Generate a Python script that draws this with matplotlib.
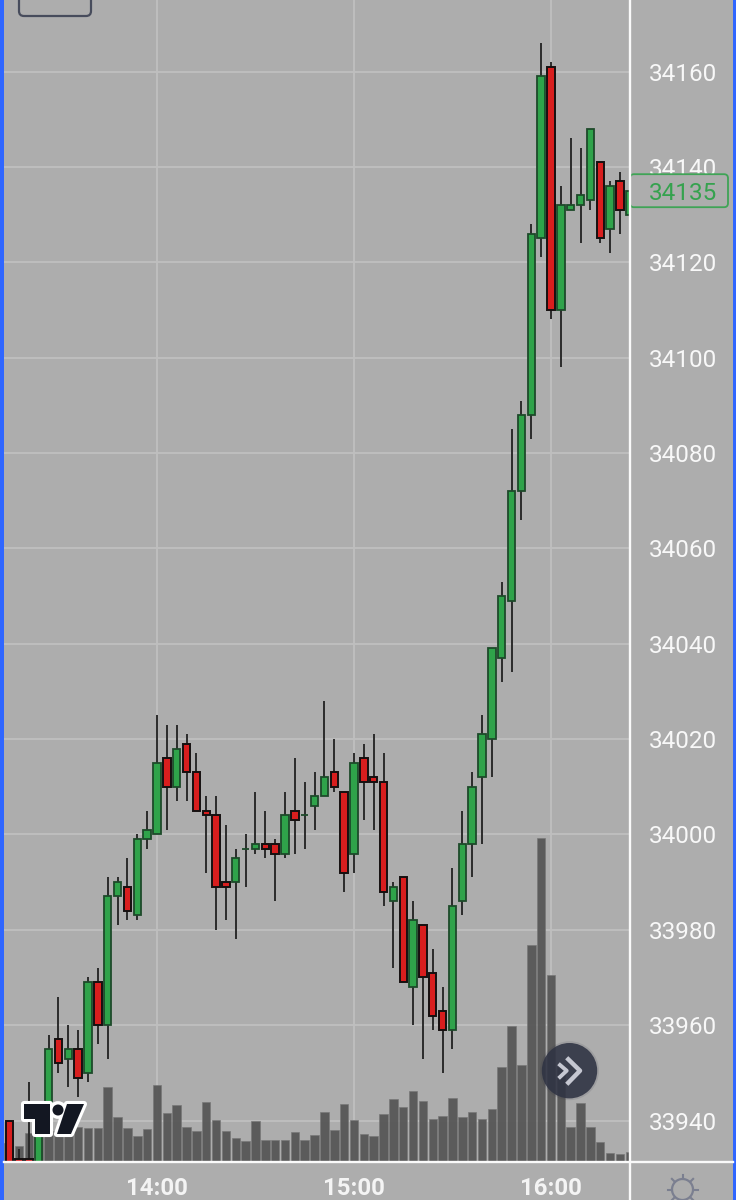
import numpy as np
import matplotlib
matplotlib.use('Agg')
import matplotlib.pyplot as plt
from matplotlib.patches import Circle, FancyBboxPatch, Polygon, Rectangle

# 3 min bars, index 0 is 14:00
bar_index = np.arange(-16, 49)
opens = [33944, 33940, 33932, 33932, 33929, 33942, 33957, 33953, 33955, 33950, 33969, 33960, 33987, 33989, 33983, 33999,
         34000, 34016, 34010, 34019, 34013, 34005, 34004, 33990, 33990, 33997, 33997, 33998, 33998, 33996, 34005, 34004,
         34006, 34008, 34013, 34009, 33996, 34016, 34012, 34011, 33986, 33991, 33968, 33981, 33971, 33963, 33959, 33986,
         33998, 34012, 34020, 34037, 34049, 34072, 34088, 34125, 34161, 34110, 34131, 34132, 34133, 34141, 34127, 34137, 34130]
highs = [33944, 33940, 33934, 33948, 33942, 33958, 33966, 33960, 33959, 33970, 33972, 33991, 33991, 33995, 34000, 34005,
         34025, 34023, 34023, 34021, 34017, 34008, 34008, 34002, 33997, 34000, 34009, 34005, 33999, 34009, 34016, 34011,
         34013, 34028, 34020, 34009, 34017, 34019, 34021, 34017, 33990, 33991, 33986, 33981, 33976, 33968, 33993, 34005,
         34013, 34025, 34039, 34053, 34085, 34091, 34128, 34166, 34162, 34136, 34146, 34144, 34148, 34141, 34137, 34139, 34140]
lows = [33940, 33930, 33928, 33928, 33929, 33942, 33950, 33947, 33945, 33948, 33956, 33953, 33981, 33982, 33982, 33997,
        34000, 34001, 34007, 34007, 34005, 33992, 33980, 33982, 33978, 33989, 33996, 33995, 33986, 33995, 33996, 33997,
        34001, 34008, 34009, 33988, 33992, 34003, 34001, 33985, 33972, 33969, 33960, 33953, 33959, 33950, 33955, 33983,
        33991, 33998, 34012, 34032, 34034, 34066, 34083, 34121, 34108, 34098, 34131, 34124, 34131, 34124, 34122, 34126, 34123]
closes = [33940, 33930, 33929, 33928, 33942, 33955, 33952, 33955, 33949, 33969, 33960, 33987, 33990, 33984, 33999, 34001,
          34015, 34010, 34018, 34013, 34005, 34004, 33989, 33989, 33995, 33997, 33998, 33997, 33996, 34004, 34003, 34004,
          34008, 34012, 34010, 33992, 34015, 34011, 34011, 33988, 33989, 33969, 33982, 33970, 33962, 33959, 33985, 33998,
          34010, 34021, 34039, 34050, 34072, 34088, 34126, 34159, 34110, 34132, 34132, 34134, 34148, 34125, 34136, 34131, 34135]
volumes = [18, 25, 15, 28, 28, 30, 30, 30, 34, 33, 33, 74, 44, 33, 25, 32,
           76, 48, 56, 34, 30, 59, 41, 30, 23, 20, 40, 21, 21, 21, 29, 21,
           26, 49, 31, 57, 41, 27, 25, 47, 62, 54, 70, 60, 42, 45, 63, 44,
           49, 42, 52, 94, 135, 96, 216, 323, 186, 94, 34, 58, 34, 19, 8, 7, 9]

price_ticks = np.arange(33940, 34161, 20)
time_ticks = [0, 20, 40]
time_labels = ['14:00', '15:00', '16:00']
last_price = 34135

bg = '#adadad'
green = '#2fa34a'
red = '#d81e1e'
axis_white = '#fafafa'
blue = '#2f66ff'
plt.rcParams['font.family'] = ['Roboto', 'DejaVu Sans']

fig = plt.figure(figsize=(7.36, 12), dpi=100, facecolor=bg)
ax = fig.add_axes([4 / 736, 38 / 1200, 625 / 736, 1162 / 1200], facecolor=bg)
y_low, y_high = 33931.3, 34175.0
ax.set_xlim(-15.53, 47.92)
ax.set_ylim(y_low, y_high)

ax.set_yticks(price_ticks)
ax.set_xticks(time_ticks)
ax.set_xticklabels(time_labels, fontsize=17.3, fontweight='bold', color='#f4f4f4')
ax.yaxis.tick_right()
ax.tick_params(axis='y', length=0, pad=14.5, labelsize=17.5, labelcolor='#f8f8f8')
ax.tick_params(axis='x', length=0, pad=10.5)
ax.grid(True, color='#bfbfbf', lw=1.3, zorder=0)
ax.set_axisbelow(True)
for s in ax.spines.values():
    s.set_visible(False)

opens, highs, lows, closes = map(np.array, (opens, highs, lows, closes))
is_up = closes >= opens

# volume sits on the bottom edge, 4.768 px per point on the price scale
vol_scale = 1 / 4.768
ax.bar(bar_index, np.array(volumes) * vol_scale, bottom=y_low + 0.2, width=0.86,
       color='#555555', edgecolor='#777777', lw=0.5, alpha=0.93, zorder=1.5)

ax.vlines(bar_index, lows, highs, color='#262626', lw=1.35, zorder=2)
ax.bar(bar_index[is_up], (closes - opens)[is_up], bottom=opens[is_up], width=0.75,
       color=green, edgecolor='#1d4a2a', lw=1.3, zorder=3)
ax.bar(bar_index[~is_up], (closes - opens)[~is_up], bottom=opens[~is_up], width=0.75,
       color=red, edgecolor='#151010', lw=1.4, zorder=3)

# app chrome on top, in pixel coords of the screenshot
over = fig.add_axes([0, 0, 1, 1], facecolor='none')
over.set_xlim(0, 736)
over.set_ylim(1200, 0)
over.axis('off')

over.add_patch(Rectangle((0, 0), 3.8, 1200, color=blue, lw=0))
over.add_patch(Rectangle((732.8, 0), 3.2, 1200, color=blue, lw=0))
over.plot([629.5, 629.5], [0, 1200], color=axis_white, lw=1.7)
over.plot([4, 733], [1162, 1162], color=axis_white, lw=1.7)

over.add_patch(FancyBboxPatch((22, -20), 66, 33, boxstyle='round,pad=3,rounding_size=5',
                              fc='none', ec='#474c5c', lw=1.6))

# last price tag
last_y = 71.5 + (34160 - last_price) * 4.768
over.add_patch(FancyBboxPatch((633, last_y - 13.5), 92, 27, boxstyle='round,pad=3,rounding_size=4',
                              fc=bg, ec='#3fa456', lw=1.3))
over.text(683, last_y, str(last_price), color='#35a24e', fontsize=17.5, ha='center', va='center_baseline')

# tv logo
logo = [[(24, 1104), (50, 1104), (50, 1134), (35, 1134), (35, 1119), (24, 1119)],
        [(67, 1104), (84, 1104), (71, 1134), (57, 1134)]]
for pts in logo:
    over.add_patch(Polygon(pts, closed=True, fc='#131722', ec='white', lw=4.4, joinstyle='round', zorder=5))
over.add_patch(Circle((58, 1110), 6.5, fc='#131722', ec='white', lw=3.4, zorder=5))
for pts in logo:
    over.add_patch(Polygon(pts, closed=True, fc='#131722', ec='none', zorder=6))
over.add_patch(Circle((58, 1110), 5.5, fc='#131722', ec='none', zorder=6))

# scroll button
over.add_patch(Circle((569.5, 1070.7), 29.5, fc='#2b2f3d', alpha=0.12, lw=0, zorder=7))
over.add_patch(Circle((569.5, 1070.7), 27.7, fc='#2f3343', alpha=0.88, lw=0, zorder=7))
over.plot([560, 566.7, 560], [1065, 1070.7, 1077], color='#c6c8d2', lw=2.8, zorder=8)
over.plot([568.3, 580, 568.3], [1059.3, 1070.7, 1082.7], color='#c6c8d2', lw=3.2, zorder=8)

# settings gear
gear_x, gear_y = 682.5, 1189.5
over.add_patch(Circle((gear_x, gear_y), 10.5, fc='none', ec='#7b7f90', lw=1.6))
for a in np.arange(8) * np.pi / 4:
    over.plot([gear_x + 11 * np.cos(a), gear_x + 15 * np.cos(a)],
              [gear_y + 11 * np.sin(a), gear_y + 15 * np.sin(a)], color='#7b7f90', lw=1.5)

fig.savefig('out.png', dpi=100, facecolor=bg)
